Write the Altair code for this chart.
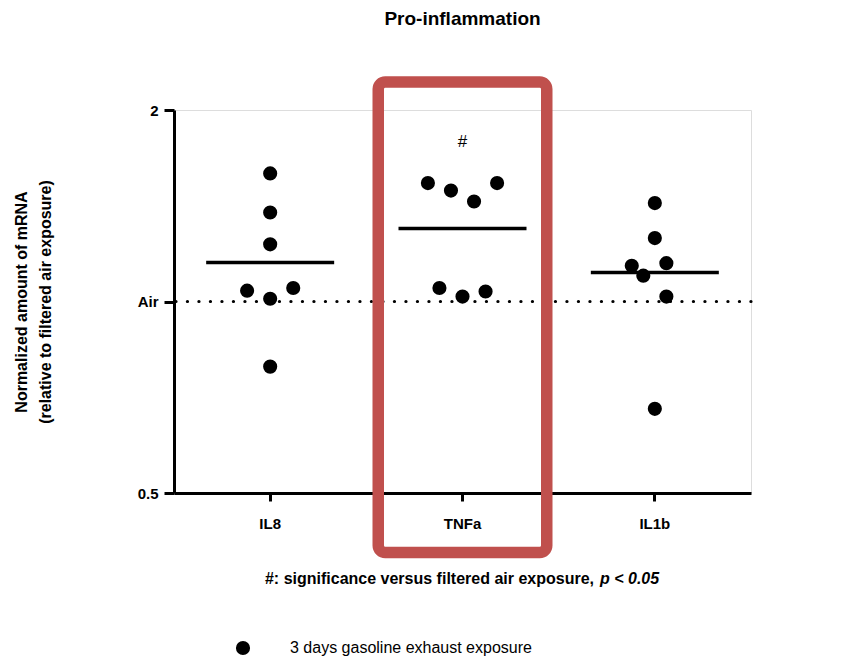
import altair as alt
import pandas as pd

genes = ["IL8", "TNFa", "IL1b"]

il8_values = [1.59, 1.38, 1.23, 1.04, 1.01, 1.05, 0.79]
il8_jitter = [0, 0, 0, -1, 0, 1, 0]
tnfa_values = [1.535, 1.494, 1.436, 1.535, 1.050, 1.018, 1.037]
tnfa_jitter = [-1.5, -0.5, 0.5, 1.5, -1, 0, 1]
il1b_values = [1.428, 1.258, 1.138, 1.149, 1.098, 1.018, 0.678]
il1b_jitter = [0, 0, -1, 0.5, -0.5, 0.5, 0]

mean_values = [1.152, 1.302, 1.111]
y_ticks = [0.5, 1, 2]
baseline_value = [1]
significant_genes = ["TNFa"]
significance_level = [1.78]
series_name = "3 days gasoline exhaust exposure"

FONT = "Liberation Sans"

rows = []
for g, vals, jit in [("IL8", il8_values, il8_jitter),
                     ("TNFa", tnfa_values, tnfa_jitter),
                     ("IL1b", il1b_values, il1b_jitter)]:
    for v, j in zip(vals, jit):
        rows.append({"gene": g, "value": v, "jitter": j, "group": series_name})
points = pd.DataFrame(rows)
means = pd.DataFrame({"gene": genes, "mean": mean_values})
base = pd.DataFrame({"y": baseline_value})
sig = pd.DataFrame({"gene": significant_genes, "y": significance_level, "label": ["#"]})
highlight = pd.DataFrame({"gene": significant_genes})
note = pd.DataFrame({"t": [0]})

W, H = 577, 383

x_scale = alt.Scale(domain=genes, paddingInner=0, paddingOuter=0)
y_scale = alt.Scale(type="log", base=2, domain=[0.5, 2], nice=False)

x_axis = alt.Axis(title=None, labelFont=FONT, labelFontSize=15, labelFontWeight="bold",
                  labelColor="black", labelAngle=0, labelPadding=15,
                  domainColor="black", domainWidth=3, tickColor="black", tickWidth=3,
                  tickSize=8, grid=False)
y_axis = alt.Axis(title=["Normalized amount of mRNA", "(relative to filtered air exposure)"],
                  titleFont=FONT, titleFontSize=16, titleFontWeight="bold", titleColor="black",
                  titleLineHeight=24, titlePadding=84,
                  values=y_ticks, labelExpr="datum.value == 1 ? 'Air' : datum.label",
                  labelFont=FONT, labelFontSize=15, labelFontWeight="bold", labelColor="black",
                  labelPadding=6, domainColor="black", domainWidth=3, tickColor="black",
                  tickWidth=3, tickSize=10, grid=False)

X = alt.X("gene:N", sort=genes, scale=x_scale, axis=x_axis)

rule = alt.Chart(base).mark_rule(color="black", strokeWidth=3.2, strokeDash=[0.1, 11.4],
                                 strokeCap="round").encode(
    y=alt.Y("y:Q", scale=y_scale, axis=y_axis))

mean_ticks = alt.Chart(means).mark_tick(color="black", size=128, thickness=3.5, opacity=1).encode(
    x=X, y=alt.Y("mean:Q", scale=y_scale, axis=y_axis))

dots = alt.Chart(points).mark_circle(size=200, opacity=1).encode(
    x=X,
    xOffset=alt.XOffset("jitter:Q", scale=alt.Scale(domain=[-4.17, 4.17])),
    y=alt.Y("value:Q", scale=y_scale, axis=y_axis),
    color=alt.Color("group:N", scale=alt.Scale(range=["black"]),
                    legend=alt.Legend(title=None, orient="none", legendX=61, legendY=530,
                                      symbolType="circle", symbolSize=200, symbolStrokeWidth=0,
                                      labelFont=FONT, labelFontSize=16, labelColor="black",
                                      labelOffset=39, labelLimit=600, padding=0)))

sig_text = alt.Chart(sig).mark_text(font=FONT, fontSize=17, color="black").encode(
    x=X, y=alt.Y("y:Q", scale=y_scale, axis=y_axis), text="label:N")

box = alt.Chart(highlight).mark_bar(width=168.5, cornerRadius=7, fillOpacity=0,
                                    stroke="#C0504D", strokeWidth=11.5).encode(
    x=X, y=alt.value(-28), y2=alt.value(442.5))

note1 = alt.Chart(note).mark_text(font=FONT, fontSize=16, fontWeight="bold", align="right",
                                  baseline="middle", color="black").encode(
    x=alt.value(420), y=alt.value(469),
    text=alt.value("#: significance versus filtered air exposure,"))
note2 = alt.Chart(note).mark_text(font=FONT, fontSize=16, fontWeight="bold", fontStyle="italic",
                                  align="left", baseline="middle", color="black").encode(
    x=alt.value(426), y=alt.value(469), text=alt.value("p < 0.05"))

chart = alt.layer(rule, mean_ticks, dots, sig_text, box, note1, note2).properties(
    width=W, height=H,
    title=alt.Title("Pro-inflammation", font=FONT, fontSize=19, fontWeight="bold",
                    color="black", anchor="middle", frame="group", offset=47),
    autosize=alt.AutoSizeParams(type="none"),
    padding={"left": 166, "top": 102, "right": 90, "bottom": 164},
).configure_view(stroke=None).configure(background="white")

chart.save("out.html", embed_options={"renderer": "svg", "actions": False})
